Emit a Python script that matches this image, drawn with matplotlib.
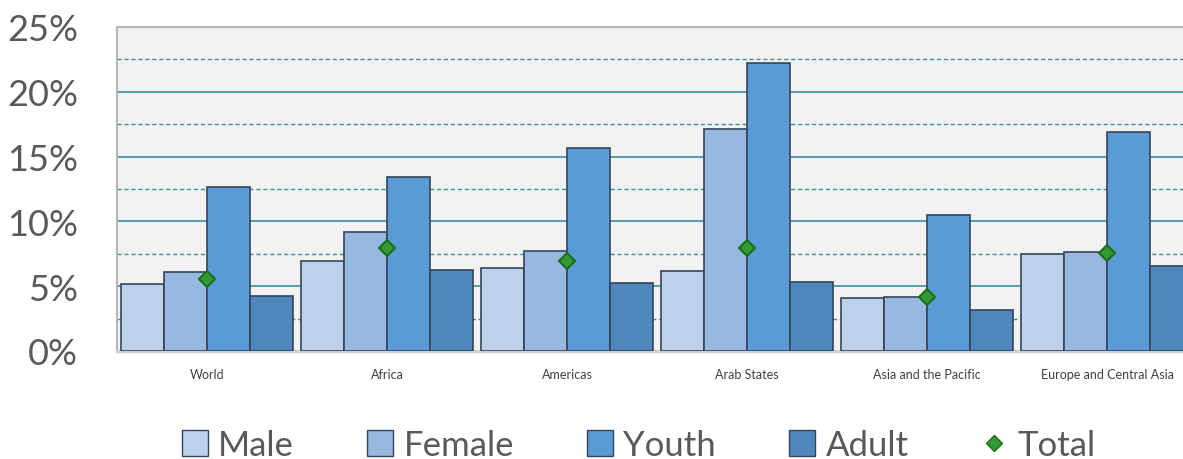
import numpy as np
import matplotlib.pyplot as plt
from matplotlib.patches import Patch
from matplotlib.lines import Line2D

plt.rcParams['font.family'] = ['Lato', 'DejaVu Sans']

regions = ['World', 'Africa', 'Americas', 'Arab States', 'Asia and the Pacific', 'Europe and Central Asia']
male = [5.2, 6.95, 6.4, 6.15, 4.1, 7.5]
female = [6.1, 9.2, 7.7, 17.1, 4.2, 7.65]
youth = [12.65, 13.4, 15.65, 22.2, 10.5, 16.9]
adult = [4.25, 6.25, 5.25, 5.3, 3.15, 6.55]
total = [5.55, 7.95, 6.95, 7.95, 4.15, 7.55]

series = [('Male', male, '#BDD1EA'), ('Female', female, '#97B8DF'),
          ('Youth', youth, '#5B9BD5'), ('Adult', adult, '#4F87BD')]

fig = plt.figure(figsize=(11.83, 4.6), dpi=100)
ax = fig.add_axes([0.0989, 0.2348, 0.9011, 0.7044])
ax.set_facecolor('#F2F2F2')

x = np.arange(len(regions))
w = 0.239
for k, (name, vals, col) in enumerate(series):
    ax.bar(x + (k - 1.5) * w, vals, width=w, color=col, edgecolor='#34445C',
           linewidth=1.2, zorder=3, label=name)
ax.plot(x, total, linestyle='none', marker='D', markersize=8, color='#339933',
        markeredgecolor='#1B6E1B', markeredgewidth=1.5, zorder=4)

for v in [5, 10, 15, 20]:
    ax.axhline(v, color='#3E8E9B', linewidth=1.2, zorder=1)
for v in [2.5, 7.5, 12.5, 17.5, 22.5]:
    ax.axhline(v, color='#3E8E9B', linewidth=1.0, linestyle=(0, (3, 2)), zorder=1)

ax.set_ylim(0, 25)
ax.set_xlim(-0.5, 5.42)
ax.set_yticks([0, 5, 10, 15, 20, 25])
ax.set_yticklabels(['0%', '5%', '10%', '15%', '20%', '25%'], fontsize=26, color='#595959')
ax.set_xticks(x)
ax.set_xticklabels(regions, fontsize=9, color='#404040')
ax.tick_params(axis='both', length=0)
ax.tick_params(axis='x', pad=12)
ax.tick_params(axis='y', pad=28)

for s in ['top', 'left', 'right']:
    ax.spines[s].set_color('#B0B8B8')
    ax.spines[s].set_linewidth(1.5)
ax.spines['right'].set_visible(False)
ax.spines['bottom'].set_color('#D0D0D0')
ax.spines['bottom'].set_linewidth(2.5)

handles = [Patch(facecolor=c, edgecolor='#34445C', label=n) for n, _, c in series]
handles.append(Line2D([], [], linestyle='none', marker='D', markersize=8, color='#339933',
                      markeredgecolor='#1B6E1B', label='Total'))
fig.legend(handles=handles, loc='center', bbox_to_anchor=(0.54, 0.03), ncol=5,
           frameon=False, fontsize=25, handlelength=0.75, handleheight=0.75,
           handletextpad=0.3, columnspacing=2.1, labelcolor='#595959')

fig.savefig('out.png', dpi=100)
